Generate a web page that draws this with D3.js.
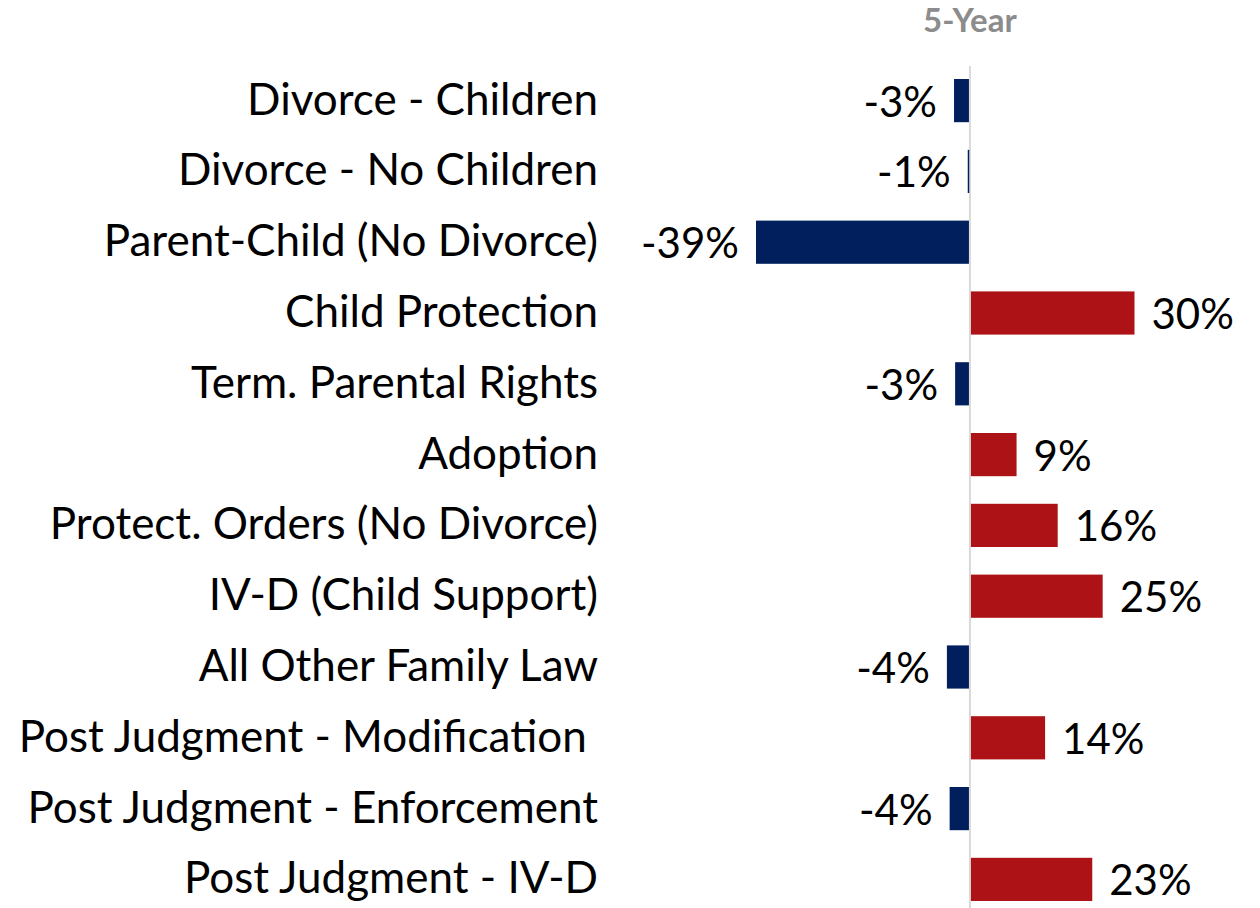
<!DOCTYPE html>
<html>
<head>
<meta charset="utf-8">
<script src="https://cdn.jsdelivr.net/npm/d3@7"></script>
<style>
  html, body { margin: 0; padding: 0; background: #ffffff; }
  svg { display: block; }
  text { font-family: Lato, "Open Sans", sans-serif; }
</style>
</head>
<body>
<svg id="chart" width="1260" height="908"></svg>
<script>
const categories = [
  "Divorce - Children",
  "Divorce - No Children",
  "Parent-Child (No Divorce)",
  "Child Protection",
  "Term. Parental Rights",
  "Adoption",
  "Protect. Orders (No Divorce)",
  "IV-D (Child Support)",
  "All Other Family Law",
  "Post Judgment - Modification\u00a0",
  "Post Judgment - Enforcement",
  "Post Judgment - IV-D"
];
const values = [-2.9, -0.4, -39, 30, -2.7, 8.5, 16, 24.2, -4.2, 13.7, -3.7, 22.3];
const valueLabels = ["-3%", "-1%", "-39%", "30%", "-3%", "9%", "16%", "25%", "-4%", "14%", "-4%", "23%"];
const title = "5-Year";

const svg = d3.select("#chart");
const labelFont = 44;
const valueFont = 42;

const x = d3.scaleLinear().domain([-39, 30]).range([756, 1134.5]);
const y = d3.scaleBand().domain(categories).range([51.4, 928.6]).paddingInner(0.39).paddingOuter(0.39);

// zero line
svg.append("line")
  .attr("x1", x(0)).attr("x2", x(0))
  .attr("y1", 66).attr("y2", 908)
  .attr("stroke", "#d9d9d9").attr("stroke-width", 2);

// title
svg.append("text")
  .attr("x", x(0)).attr("y", 32)
  .attr("text-anchor", "middle")
  .attr("fill", "#8c8c8c")
  .attr("font-weight", "bold")
  .attr("font-size", 33)
  .text(title);

const rows = categories.map((c, i) => ({ c, v: values[i], lab: valueLabels[i] }));

svg.append("g").selectAll("rect").data(rows).join("rect")
  .attr("x", d => Math.min(x(0) + 1, x(d.v)))
  .attr("width", d => Math.max(1.5, Math.abs(x(d.v) - x(0)) - 1))
  .attr("y", d => y(d.c))
  .attr("height", y.bandwidth())
  .attr("fill", d => d.v < 0 ? "#001f5c" : "#ad1316");

// category labels
svg.append("g").selectAll("text").data(rows).join("text")
  .attr("x", 598)
  .attr("y", d => y(d.c) + y.bandwidth() / 2 + 14)
  .attr("text-anchor", "end")
  .attr("font-size", labelFont)
  .attr("fill", "#000")
  .style("white-space", "pre")
  .text(d => d.c);

// value labels
svg.append("g").selectAll("text").data(rows).join("text")
  .attr("x", d => d.v < 0 ? x(d.v) - 17 : x(d.v) + 17)
  .attr("y", d => y(d.c) + y.bandwidth() / 2 + 16)
  .attr("text-anchor", d => d.v < 0 ? "end" : "start")
  .attr("font-size", valueFont)
  .attr("fill", "#000")
  .text(d => d.lab);
</script>
</body>
</html>
